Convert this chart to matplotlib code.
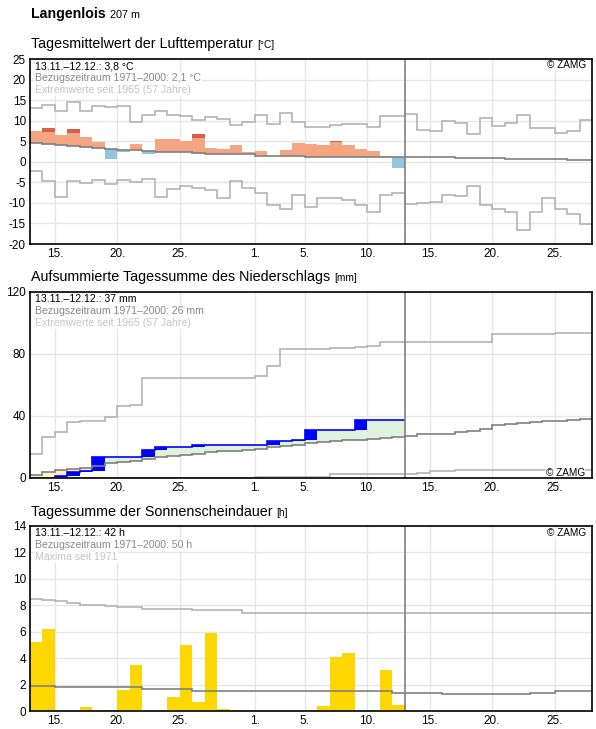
import numpy as np
import matplotlib.pyplot as plt

plt.rcParams['font.family'] = ['Liberation Sans', 'DejaVu Sans']
plt.rcParams['axes.unicode_minus'] = False

# days counted from 13.11. (0) ; data until 12.12. (29), axis until 27.12. (44)
days = np.arange(30)
edges_all = np.arange(46)
edges_obs = np.arange(31)
tick_pos = [2, 7, 12, 18, 22, 27, 32, 37, 42]
tick_lab = ['15.', '20.', '25.', '1.', '5.', '10.', '15.', '20.', '25.']

# Lufttemperatur (Tagesmittel) °C
temp = [7.5, 8.2, 6.5, 8.0, 6.0, 4.8, 0.65, 2.4, 4.3, 1.9,
        5.5, 5.5, 5.0, 6.8, 3.3, 3.1, 4.1, 2.4, 2.6, 1.3,
        2.8, 4.6, 4.3, 4.1, 5.0, 4.1, 3.1, 2.6, 1.4, -1.5]
temp_thresh = [np.nan, 7.2, np.nan, 7.0, np.nan, np.nan, np.nan, np.nan, np.nan, np.nan,
               np.nan, np.nan, np.nan, 5.8, np.nan, np.nan, np.nan, np.nan, np.nan, np.nan,
               np.nan, np.nan, np.nan, np.nan, 4.9, np.nan, np.nan, np.nan, np.nan, np.nan]
temp_norm = [4.5, 4.3, 4.1, 3.8, 3.6, 3.3, 3.0, 2.9, 2.8, 2.7,
             2.5, 2.4, 2.3, 2.2, 2.0, 1.9, 1.9, 1.9, 1.5, 1.3,
             1.3, 1.3, 1.1, 1.1, 1.1, 1.1, 1.1, 1.1, 1.1, 1.1,
             1.05, 1.05, 1.05, 1.05, 0.9, 0.9, 0.9, 0.9, 0.7, 0.7,
             0.7, 0.7, 0.7, 0.4, 0.4]
temp_max = [13.0, 13.7, 12.3, 14.5, 12.3, 13.6, 13.3, 13.6, 9.6, 11.5,
            12.3, 11.5, 11.1, 10.1, 10.8, 10.3, 8.9, 9.6, 11.3, 9.3,
            11.8, 9.6, 8.4, 8.4, 8.9, 9.1, 9.1, 8.4, 11.1, 11.1,
            11.7, 7.8, 7.5, 9.9, 9.5, 6.8, 10.6, 8.7, 9.4, 11.4,
            8.2, 8.2, 7.1, 7.6, 10.2]
temp_min = [-2.3, -4.7, -8.5, -4.7, -5.2, -4.5, -5.5, -4.5, -4.8, -4.1,
            -8.5, -6.7, -5.8, -6.4, -6.9, -8.9, -4.6, -6.3, -7.7, -10.6,
            -11.6, -8.2, -11.1, -8.9, -8.9, -9.2, -10.4, -12.1, -8.2, -7.5,
            -10.2, -10.0, -9.8, -8.1, -8.3, -5.9, -10.5, -11.4, -12.3, -16.7,
            -12.2, -8.7, -11.4, -12.7, -15.1]

# Niederschlag, aufsummiert mm
prec_cum = [0.0, 0.0, 1.1, 4.1, 4.5, 13.3, 13.3, 13.3, 13.3, 18.1,
            19.8, 19.8, 19.8, 21.3, 21.3, 21.3, 21.3, 21.3, 21.3, 23.9,
            23.9, 24.5, 31.0, 31.0, 31.0, 31.0, 37.4, 37.4, 37.4, 37.4]
prec_norm = [1.7, 3.7, 4.9, 6.0, 6.7, 7.9, 9.7, 10.3, 11.2, 12.0,
             13.3, 14.2, 14.8, 15.5, 16.6, 17.4, 17.6, 18.3, 18.9, 19.8,
             20.4, 21.3, 22.4, 23.0, 23.7, 24.3, 24.7, 25.2, 25.8, 26.2,
             27.0, 28.2, 28.7, 28.7, 29.9, 30.6, 31.7, 34.0, 34.9, 35.5,
             35.9, 36.6, 36.8, 37.4, 37.9]
prec_max = [15.5, 26.2, 29.4, 35.9, 36.6, 36.6, 39.4, 46.7, 47.3, 64.2,
            64.2, 64.2, 64.2, 64.2, 64.2, 64.2, 64.2, 64.8, 65.5, 72.5,
            83.4, 83.4, 83.4, 83.4, 84.1, 84.1, 84.5, 84.9, 87.9, 87.9,
            87.9, 87.9, 87.9, 87.9, 87.9, 87.9, 87.9, 93.0, 93.0, 93.0,
            93.0, 93.0, 93.7, 93.7, 93.7]
prec_min = [0, 0, 0, 0, 0, 0, 0, 0, 0, 0,
            0, 0, 0, 0, 0, 0, 0, 0, 0.6, 0.6,
            0.6, 0.6, 0.6, 0.6, 2.6, 2.6, 2.6, 2.6, 2.6, 2.6,
            2.6, 3.2, 4.5, 4.5, 5.1, 5.1, 5.1, 5.1, 5.1, 5.1,
            5.1, 5.1, 5.1, 5.1, 5.1]

# Sonnenscheindauer h
sun = [5.2, 6.2, 0, 0, 0.3, 0, 0.08, 1.6, 3.5, 0,
       0, 1.06, 5.0, 0.7, 5.9, 0.15, 0, 0, 0, 0,
       0, 0, 0, 0.4, 4.1, 4.4, 0, 0, 3.1, 0.45]
sun_norm = [1.9, 1.9, 1.8, 1.8, 1.8, 1.8, 1.8, 1.8, 1.8, 1.65,
            1.65, 1.65, 1.65, 1.55, 1.55, 1.55, 1.55, 1.55, 1.55, 1.55,
            1.55, 1.55, 1.55, 1.55, 1.55, 1.5, 1.5, 1.5, 1.5, 1.35,
            1.35, 1.35, 1.35, 1.25, 1.25, 1.25, 1.25, 1.25, 1.25, 1.25,
            1.35, 1.35, 1.5, 1.5, 1.55]
sun_max = [8.5, 8.4, 8.3, 8.2, 8.05, 8.05, 7.95, 7.9, 7.9, 7.75,
           7.75, 7.7, 7.7, 7.65, 7.65, 7.65, 7.65] + [7.45] * 28

GRID = '#e6e6e6'
EXT = '#b4b4b4'
NORM = '#808080'
WHITE_BOX = dict(facecolor='white', edgecolor='none', pad=0.6)

fig = plt.figure(figsize=(5.96, 7.29), dpi=100)
W, H = 596, 729


def make_axes(top_px, bot_px):
    ax = fig.add_axes([30 / W, 1 - bot_px / H, 562 / W, (bot_px - top_px) / H])
    ax.set_xlim(0, 45)
    ax.set_xticks(tick_pos)
    ax.set_xticklabels(tick_lab)
    ax.tick_params(length=0, labelsize=8.5, pad=3)
    ax.grid(True, color=GRID, lw=1)
    ax.set_axisbelow(True)
    for s in ax.spines.values():
        s.set_color('black')
        s.set_linewidth(1.2)
        s.set_zorder(12)
    ax.axvline(30, color=NORM, lw=1.2, zorder=6)
    return ax


def info_text(ax, top_px, bot_px, lines):
    h = bot_px - top_px
    cols = ['black', '#888888', '#c4c4c4']
    for i, (t, c) in enumerate(zip(lines, cols)):
        ax.text(0.009, 1 - (7.5 + 11.6 * i) / h, t, transform=ax.transAxes,
                fontsize=7.6, color=c, va='center', ha='left', zorder=10, bbox=WHITE_BOX)


def title(y_px, main, unit):
    t = fig.text(31 / W, 1 - y_px / H, main, fontsize=10.3, va='center', ha='left')
    fig.canvas.draw()
    bb = t.get_window_extent()
    fig.text((bb.x1 + 4) / W, 1 - (y_px + 0.5) / H, unit, fontsize=7.3, va='center', ha='left')


# Header
hd = fig.text(31 / W, 1 - 14 / H, 'Langenlois', fontsize=10.2, fontweight='bold', va='center')
fig.canvas.draw()
bb = hd.get_window_extent()
fig.text((bb.x1 + 4) / W, 1 - 14.5 / H, '207 m', fontsize=7.8, va='center')

# ---- Temperatur
title(44, 'Tagesmittelwert der Lufttemperatur', '[°C]')
ax1 = make_axes(59, 244)
ax1.set_ylim(-20, 25)
ax1.set_yticks(np.arange(-20, 26, 5))
t = np.array(temp)
tn = np.array(temp_norm[:30])
th = np.array(temp_thresh)
cap = np.where(np.isnan(th), t, np.minimum(t, th))
warm = t > tn
ax1.bar(days[warm], (cap - tn)[warm], bottom=tn[warm], width=1, align='edge', color='#f4a582', lw=0, zorder=3)
hot = ~np.isnan(th)
ax1.bar(days[hot], (t - th)[hot], bottom=th[hot], width=1, align='edge', color='#d6604d', lw=0, zorder=3)
cold = t < tn
ax1.bar(days[cold], (t - tn)[cold], bottom=tn[cold], width=1, align='edge', color='#92c5de', lw=0, zorder=3)
ax1.stairs(temp_max, edges_all, color=EXT, lw=1.2, baseline=None, zorder=4)
ax1.stairs(temp_min, edges_all, color=EXT, lw=1.2, baseline=None, zorder=4)
ax1.stairs(temp_norm, edges_all, color=NORM, lw=1.2, baseline=None, zorder=5)
info_text(ax1, 59, 244, ['13.11.–12.12.: 3,8 °C', 'Bezugszeitraum 1971–2000: 2,1 °C',
                         'Extremwerte seit 1965 (57 Jahre)'])
ax1.text(0.989, 1 - 6.5 / 185, '© ZAMG', transform=ax1.transAxes, fontsize=7.2,
         ha='right', va='center', zorder=10, bbox=WHITE_BOX)

# ---- Niederschlag
title(277.5, 'Aufsummierte Tagessumme des Niederschlags', '[mm]')
ax2 = make_axes(292, 478)
ax2.set_ylim(0, 120)
ax2.set_yticks([0, 40, 80, 120])
pc = np.array(prec_cum)
pn = np.array(prec_norm[:30])
pc_e = np.append(pc, pc[-1])
pn_e = np.append(pn, pn[-1])
ax2.fill_between(edges_obs, pn_e, np.maximum(pc_e, pn_e), step='post', color='#dff2dc', lw=0, zorder=2)
ax2.fill_between(edges_obs, np.minimum(pc_e, pn_e), pn_e, step='post', color='#fff3bd', lw=0, zorder=2)
prev = np.concatenate([[0], pc[:-1]])
rain = (pc - prev) > 0.05
ax2.bar(days[rain], (pc - prev)[rain], bottom=prev[rain], width=1, align='edge', color='#0000ff', lw=0, zorder=3)
ax2.stairs(prec_cum, edges_obs, color='#0000ff', lw=1.2, baseline=None, zorder=4)
ax2.stairs(prec_max, edges_all, color=EXT, lw=1.2, baseline=None, zorder=4)
ax2.stairs(prec_min, edges_all, color=EXT, lw=1.2, baseline=None, zorder=4)
ax2.stairs(prec_norm, edges_all, color=NORM, lw=1.2, baseline=None, zorder=5)
info_text(ax2, 292, 478, ['13.11.–12.12.: 37 mm', 'Bezugszeitraum 1971–2000: 26 mm',
                          'Extremwerte seit 1965 (57 Jahre)'])
ax2.text(0.987, 5.5 / 186, '© ZAMG', transform=ax2.transAxes, fontsize=7.2, ha='right', va='center',
         zorder=10, bbox=WHITE_BOX)

# ---- Sonnenschein
title(512, 'Tagessumme der Sonnenscheindauer', '[h]')
ax3 = make_axes(526, 711)
ax3.set_ylim(0, 14)
ax3.set_yticks(np.arange(0, 15, 2))
s = np.array(sun)
ax3.bar(days[s > 0], s[s > 0], width=1, align='edge', color='#ffd700', lw=0, zorder=3)
ax3.stairs(sun_max, edges_all, color=EXT, lw=1.2, baseline=None, zorder=4)
ax3.stairs(sun_norm, edges_all, color=NORM, lw=1.2, baseline=None, zorder=5)
info_text(ax3, 526, 711, ['13.11.–12.12.: 42 h', 'Bezugszeitraum 1971–2000: 50 h', 'Maxima seit 1971'])
ax3.text(0.989, 1 - 7.5 / 185, '© ZAMG', transform=ax3.transAxes, fontsize=7.2,
         ha='right', va='center', zorder=10, bbox=WHITE_BOX)

fig.savefig('out.png', dpi=100)
plt.close()
